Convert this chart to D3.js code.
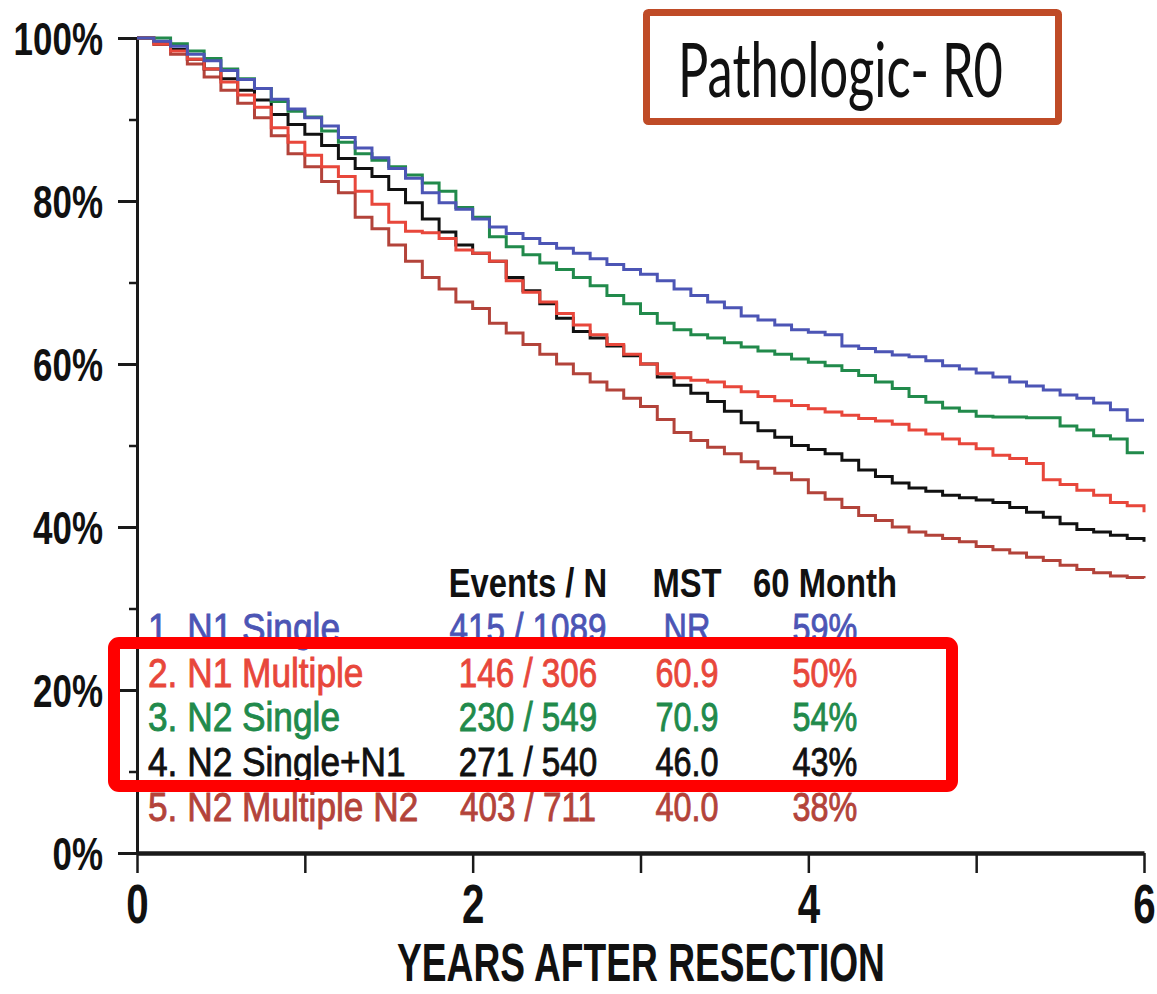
<!DOCTYPE html>
<html>
<head>
<meta charset="utf-8">
<script src="https://cdn.jsdelivr.net/npm/d3@7"></script>
<style>
  body { margin: 0; background: #fff; }
  svg { display: block; }
</style>
</head>
<body>
<svg id="chart" width="1157" height="994"></svg>
<script>
// ---- Kaplan-Meier survival by nodal category (years after resection, % surviving) ----
const years = [0, 0.1, 0.2, 0.3, 0.4, 0.5, 0.6, 0.7, 0.8, 0.9,
  1.0, 1.1, 1.2, 1.3, 1.4, 1.5, 1.6, 1.7, 1.8, 1.9,
  2.0, 2.1, 2.2, 2.3, 2.4, 2.5, 2.6, 2.7, 2.8, 2.9,
  3.0, 3.1, 3.2, 3.3, 3.4, 3.5, 3.6, 3.7, 3.8, 3.9,
  4.0, 4.1, 4.2, 4.3, 4.4, 4.5, 4.6, 4.7, 4.8, 4.9,
  5.0, 5.1, 5.2, 5.3, 5.4, 5.5, 5.6, 5.7, 5.8, 5.9, 6.0];

const survN1Single = [100, 99.6, 99.0, 98.0, 97.2, 96.0, 94.9, 93.8, 92.5, 91.3,
  90.2, 89.2, 87.8, 86.5, 85.3, 84.0, 82.8, 81.0, 79.8, 79.0,
  77.8, 76.8, 76.0, 75.4, 74.8, 74.2, 73.6, 72.9, 72.2, 71.6,
  71.0, 70.2, 69.2, 68.4, 67.6, 66.9, 65.9, 65.4, 64.8, 64.2,
  63.9, 63.6, 62.2, 61.9, 61.5, 61.1, 60.9, 60.4, 59.8, 59.4,
  58.9, 58.4, 57.8, 57.3, 56.8, 56.2, 55.8, 55.2, 54.4, 53.1, 53.1];

const survN1Multiple = [100, 99.3, 98.4, 97.4, 96.2, 94.6, 93.0, 91.5, 89.0, 87.2,
  85.6, 84.2, 83.0, 81.2, 79.6, 77.4, 76.3, 76.1, 75.4, 74.0,
  73.6, 72.6, 70.2, 68.8, 67.6, 66.2, 64.8, 63.6, 62.4, 61.2,
  60.0, 58.8, 58.3, 58.0, 57.8, 57.2, 56.6, 56.0, 55.5, 54.9,
  54.5, 54.1, 53.7, 53.3, 53.0, 52.6, 51.9, 51.4, 50.8, 50.2,
  49.6, 48.8, 48.4, 47.8, 45.8, 45.2, 44.5, 43.9, 43.0, 42.6, 41.8];

const survN2Single = [100, 100, 99.3, 98.4, 97.5, 96.2, 95.0, 93.8, 92.2, 91.0,
  90.3, 88.6, 87.2, 85.8, 85.0, 84.2, 83.2, 82.2, 81.2, 79.2,
  78.0, 75.6, 74.4, 73.4, 72.4, 71.6, 70.6, 69.6, 68.4, 67.4,
  66.2, 65.0, 64.2, 63.6, 63.2, 62.6, 62.1, 61.6, 61.2, 60.6,
  60.2, 59.8, 59.2, 58.6, 57.8, 57.0, 56.0, 55.3, 54.6, 54.2,
  53.6, 53.5, 53.5, 53.4, 53.4, 52.4, 51.9, 51.2, 50.8, 49.1, 49.1];

const survN2SingleN1 = [100, 99.5, 98.6, 97.4, 96.2, 95.0, 93.6, 92.4, 90.6, 89.4,
  88.2, 86.8, 85.2, 84.0, 83.0, 81.4, 79.8, 77.8, 76.2, 74.6,
  73.6, 72.6, 70.6, 69.0, 67.4, 65.6, 64.0, 63.2, 62.2, 61.0,
  60.0, 58.4, 57.4, 56.4, 55.4, 54.2, 52.8, 51.8, 51.0, 50.0,
  49.5, 49.0, 48.2, 47.0, 46.2, 45.4, 44.8, 44.4, 43.9, 43.6,
  43.3, 43.0, 42.4, 41.8, 41.2, 40.4, 39.7, 39.4, 39.0, 38.6, 38.2];

const survN2MultipleN2 = [100, 99.2, 98.0, 96.8, 95.2, 93.6, 92.0, 90.2, 88.0, 85.8,
  84.2, 82.4, 81.0, 78.0, 76.6, 74.6, 72.6, 70.6, 69.2, 67.6,
  66.8, 65.0, 63.8, 62.4, 61.2, 60.0, 58.8, 57.8, 56.8, 55.8,
  54.8, 53.2, 51.6, 50.6, 49.8, 49.0, 48.0, 47.2, 46.6, 45.8,
  44.2, 43.4, 42.4, 41.4, 40.8, 40.0, 39.4, 39.0, 38.6, 38.2,
  37.6, 37.2, 36.8, 36.3, 35.9, 35.3, 34.8, 34.4, 34.0, 33.8, 33.7];

// ---- Summary table ----
const groupLabels = ["1. N1 Single", "2. N1 Multiple", "3. N2 Single", "4. N2 Single+N1", "5. N2 Multiple N2"];
const eventsOverN = ["415 / 1089", "146 / 306", "230 / 549", "271 / 540", "403 / 711"];
const medianSurvival = ["NR", "60.9", "70.9", "46.0", "40.0"];
const survival60Month = ["59%", "50%", "54%", "43%", "38%"];
const tableHeaders = ["Events / N", "MST", "60 Month"];
const groupColors = ["#4c55b5", "#e8473b", "#218a4b", "#111111", "#b3433a"];

// ---- Axes ----
const yTicks = [0, 20, 40, 60, 80, 100];
const yMinorTicks = [10, 30, 50, 70, 90];
const xTicks = [0, 1, 2, 3, 4, 5, 6];
const xLabelledTicks = [0, 2, 4, 6];
const xAxisTitle = "YEARS AFTER RESECTION";
const panelTitle = "Pathologic- R0";

const seriesValues = [survN1Single, survN1Multiple, survN2Single, survN2SingleN1, survN2MultipleN2];

// ---------------------------------------------------------------------------
const svg = d3.select("#chart");
const FONT = "'Liberation Sans', Arial, Helvetica, sans-serif";

const x = d3.scaleLinear().domain([0, 6]).range([137, 1144]);
const y = d3.scaleLinear().domain([0, 100]).range([853, 38]);

// text squeezed horizontally to get the condensed look of the typeface
function squeezedText(parent, str, px, py, opts) {
  const t = parent.append("text")
    .attr("transform", `translate(${px},${py}) scale(${opts.sx},1)`)
    .attr("font-family", opts.family || FONT)
    .attr("font-size", opts.size)
    .attr("font-weight", opts.weight || "normal")
    .attr("text-anchor", opts.anchor || "start")
    .attr("fill", opts.fill || "#111")
    .text(str);
  if (opts.heavy) {
    t.attr("stroke", opts.fill || "#111").attr("stroke-width", opts.heavy);
  }
  return t;
}
// text fitted to a given width
function fittedText(parent, str, px, py, width, opts) {
  const t = squeezedText(parent, str, px, py, Object.assign({}, opts, { sx: 1 }));
  const natural = t.node().getComputedTextLength();
  t.attr("transform", `translate(${px},${py}) scale(${width / natural},1)`);
  return t;
}

// ---- y axis ----
const yMinor = svg.append("g").attr("transform", `translate(${x(0)},0)`)
  .call(d3.axisLeft(y).tickValues(yMinorTicks).tickSize(8).tickSizeOuter(0).tickFormat(""));
yMinor.select(".domain").remove();
yMinor.selectAll(".tick line").attr("stroke", "#1a1a1a").attr("stroke-width", 2.5);

const yAxis = svg.append("g").attr("transform", `translate(${x(0)},0)`)
  .call(d3.axisLeft(y).tickValues(yTicks).tickSize(19).tickSizeOuter(0).tickPadding(15)
    .tickFormat(d => d + "%"));
yAxis.select(".domain").attr("stroke", "#1a1a1a").attr("stroke-width", 3);
yAxis.selectAll(".tick line").attr("stroke", "#1a1a1a").attr("stroke-width", 3);
yAxis.selectAll(".tick text")
  .attr("x", 0).attr("dy", "0.36em")
  .attr("transform", "translate(-34,0) scale(0.76,1)")
  .attr("font-family", FONT).attr("font-size", 46).attr("font-weight", "bold")
  .attr("fill", "#111");

// ---- x axis ----
const xAxis = svg.append("g").attr("transform", `translate(0,${y(0)})`)
  .call(d3.axisBottom(x).tickValues(xTicks).tickSize(20).tickSizeOuter(0)
    .tickFormat(d => xLabelledTicks.includes(d) ? d : ""));
xAxis.select(".domain").attr("stroke", "#1a1a1a").attr("stroke-width", 4.5);
xAxis.selectAll(".tick line").attr("stroke", "#1a1a1a").attr("stroke-width", 2.5);
xAxis.selectAll(".tick text")
  .attr("y", 0).attr("dy", "0.71em")
  .attr("transform", "translate(0,30) scale(0.72,1)")
  .attr("font-family", FONT).attr("font-size", 56).attr("font-weight", "bold")
  .attr("fill", "#111");

fittedText(svg, xAxisTitle, 641, 981, 488,
  { size: 54, weight: "bold", anchor: "middle", fill: "#111" });

// ---- survival curves ----
const line = d3.line()
  .x(d => x(d[0]))
  .y(d => y(d[1]))
  .curve(d3.curveStepAfter);

const drawOrder = [4, 3, 2, 1, 0];
svg.append("g").selectAll("path")
  .data(drawOrder)
  .join("path")
  .attr("d", i => line(years.map((t, k) => [t, seriesValues[i][k]])))
  .attr("fill", "none")
  .attr("stroke", i => groupColors[i])
  .attr("stroke-width", 3)
  .attr("stroke-linejoin", "miter");

// ---- summary table ----
const table = svg.append("g");
const headerY = 597, rowStep = 44.8;
const colCenters = [528, 687, 825];
tableHeaders.forEach((h, j) => {
  squeezedText(table, h, colCenters[j], headerY,
    { size: 40, weight: "bold", sx: 0.82, anchor: "middle", fill: "#111" });
});
groupLabels.forEach((lab, i) => {
  const by = headerY + rowStep * (i + 1);
  const c = groupColors[i];
  squeezedText(table, lab, 148, by, { size: 41, sx: 0.86, fill: c, heavy: 0.9 });
  squeezedText(table, eventsOverN[i], colCenters[0], by, { size: 41, sx: 0.81, anchor: "middle", fill: c, heavy: 0.9 });
  squeezedText(table, medianSurvival[i], colCenters[1], by, { size: 41, sx: 0.79, anchor: "middle", fill: c, heavy: 0.9 });
  squeezedText(table, survival60Month[i], colCenters[2], by, { size: 41, sx: 0.79, anchor: "middle", fill: c, heavy: 0.9 });
});

// highlight frame around rows 2-4
svg.append("rect")
  .attr("x", 114).attr("y", 643).attr("width", 838).attr("height", 143)
  .attr("rx", 5).attr("fill", "none")
  .attr("stroke", "#ff0000").attr("stroke-width", 12);

// ---- panel title box ----
svg.append("rect")
  .attr("x", 646.5).attr("y", 12.5).attr("width", 412).attr("height", 109)
  .attr("rx", 2).attr("fill", "#fff")
  .attr("stroke", "#bf4b27").attr("stroke-width", 7);
fittedText(svg, panelTitle, 678, 97, 325,
  { size: 75, family: "Lato, 'Open Sans', sans-serif", fill: "#111" });
</script>
</body>
</html>
